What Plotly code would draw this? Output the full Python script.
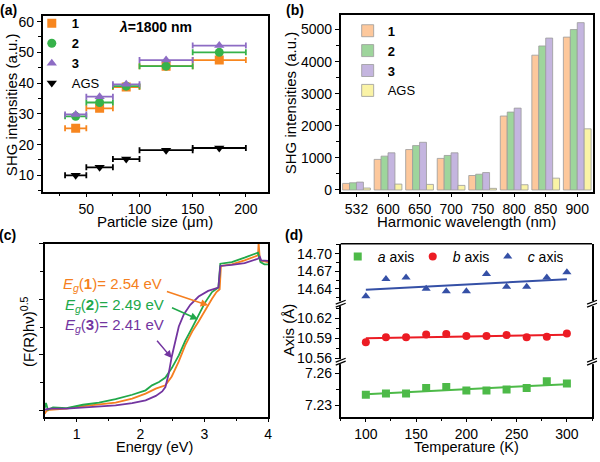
import plotly.graph_objects as go

FONT = "Arial, Liberation Sans, sans-serif"
W, H = 600, 462

# (a) SHG intensity vs particle size at 1800 nm
particle_mid = [40, 62.5, 87.5, 125, 175]
particle_half = [10, 12.5, 12.5, 25, 25]
shg_a_1 = [25.3, 31.8, 38.7, 45.5, 47.5]
shg_a_2 = [29.2, 33.7, 39.0, 45.5, 50.0]
shg_a_3 = [29.8, 35.6, 39.6, 47.5, 52.2]
shg_a_ags = [10.0, 12.6, 15.3, 18.2, 18.9]

# (b) SHG intensity vs harmonic wavelength
wavelengths = ["532", "600", "650", "700", "750", "800", "850", "900"]
shg_b_1 = [205, 953, 1260, 984, 451, 2305, 4201, 4764]
shg_b_2 = [225, 1055, 1383, 1076, 492, 2428, 4488, 5000]
shg_b_3 = [246, 1158, 1486, 1158, 543, 2551, 4734, 5215]
shg_b_ags = [61, 184, 174, 143, 51, 164, 369, 1906]

# (c) Tauc plots (arbitrary units)
tauc1_e = [0.50, 0.53, 0.58, 0.84, 0.99, 1.35, 1.61, 1.87, 2.08, 2.24, 2.39, 2.49, 2.60,
           2.70, 2.81, 2.91, 3.01, 3.12, 3.19, 3.24, 3.26, 3.43, 3.63, 3.84, 3.85, 3.87, 4.0]
tauc1_y = [-0.06, -0.01, 0.01, 0.03, 0.06, 0.11, 0.14, 0.21, 0.30, 0.39, 0.45, 0.61, 0.88,
           1.17, 1.42, 1.60, 1.80, 2.01, 2.13, 2.18, 2.60, 2.63, 2.70, 2.79, 3.02, 2.70, 2.67]
tauc2_e = [0.50, 0.52, 0.55, 0.63, 0.84, 1.10, 1.35, 1.61, 1.87, 2.08, 2.18, 2.29, 2.39,
           2.49, 2.60, 2.70, 2.81, 2.91, 3.01, 3.12, 3.22, 3.25, 3.43, 3.63, 3.84, 3.88, 3.94, 4.0]
tauc2_y = [0.04, 0.13, 0.01, 0.05, 0.04, 0.10, 0.14, 0.20, 0.28, 0.36, 0.45, 0.51, 0.59,
           0.76, 0.99, 1.25, 1.49, 1.71, 1.94, 2.13, 2.21, 2.64, 2.67, 2.75, 2.84, 2.67, 2.63, 2.63]
tauc3_e = [0.50, 0.58, 0.84, 1.10, 1.35, 1.61, 1.87, 2.08, 2.24, 2.34, 2.39, 2.44, 2.49,
           2.55, 2.60, 2.68, 2.78, 2.91, 3.06, 3.22, 3.25, 3.43, 3.63, 3.84, 3.87, 3.89, 4.0]
tauc3_y = [0.01, 0.03, 0.03, 0.05, 0.06, 0.09, 0.13, 0.18, 0.26, 0.34, 0.42, 0.65, 0.97,
           1.25, 1.51, 1.73, 1.90, 2.05, 2.15, 2.21, 2.60, 2.62, 2.65, 2.73, 2.76, 2.70, 2.69]

# (d) lattice parameters vs temperature
temps = [100, 120, 140, 160, 180, 200, 220, 240, 260, 280, 300]
a_axis = [7.2397, 7.2409, 7.2409, 7.2462, 7.2471, 7.2438, 7.2438, 7.2447, 7.2462, 7.2526, 7.2503]
b_axis = [10.5841, 10.5915, 10.5915, 10.5959, 10.5964, 10.5934, 10.5934, 10.5949, 10.5915, 10.5925, 10.5974]
c_axis = [14.6278, 14.6572, 14.6595, 14.6406, 14.6361, 14.6361, 14.6656, 14.6439, 14.6439, 14.6595, 14.6684]
fit_t = [100, 300]
fit_a = [7.2403, 7.2497]
fit_b = [10.5900, 10.5954]
fit_c = [14.6389, 14.6567]


def px(x):
    return x / W


def py(y):
    return 1 - y / H


ORANGE, GREEN, PURPLE = "#F7861F", "#36B24A", "#8D6CC4"

fig = go.Figure()

# ---- panel (a)
for name, vals, col, sym in [("<b>1</b>", shg_a_1, ORANGE, "square"),
                             ("<b>2</b>", shg_a_2, GREEN, "circle"),
                             ("<b>3</b>", shg_a_3, PURPLE, "triangle-up"),
                             ("AGS", shg_a_ags, "black", "triangle-down")]:
    fig.add_trace(go.Scatter(
        x=particle_mid, y=vals, name=name, mode="markers",
        marker=dict(symbol=sym, size=9, color=col),
        error_x=dict(type="data", array=particle_half, color=col, thickness=1.8, width=3),
        xaxis="x", yaxis="y", legend="legend",
    ))

# ---- panel (b)
for name, vals, col in [("<b>1</b>", shg_b_1, "#FDC89C"),
                        ("<b>2</b>", shg_b_2, "#9ED59C"),
                        ("<b>3</b>", shg_b_3, "#C4B5DF"),
                        ("AGS", shg_b_ags, "#FAF3A6")]:
    fig.add_trace(go.Bar(
        x=wavelengths, y=vals, name=name,
        marker=dict(color=col, line=dict(color="#9a9a9a", width=0.8)),
        xaxis="x2", yaxis="y2", legend="legend2",
    ))

# ---- panel (c)
for e, v, col in [(tauc1_e, tauc1_y, "#F57F20"), (tauc2_e, tauc2_y, "#21A84A"),
                  (tauc3_e, tauc3_y, "#7335A0")]:
    fig.add_trace(go.Scatter(x=e, y=v, mode="lines", line=dict(color=col, width=1.8),
                             showlegend=False, xaxis="x3", yaxis="y3"))

# ---- panel (d)
DG, DR, DB = "#4DBA48", "#EC1C24", "#3550A6"
for name, vals, fit, col, sym, ya in [("<i>a</i> axis", a_axis, fit_a, DG, "square", "y4"),
                                      ("<i>b</i> axis", b_axis, fit_b, DR, "circle", "y5"),
                                      ("<i>c</i> axis", c_axis, fit_c, DB, "triangle-up", "y6")]:
    fig.add_trace(go.Scatter(x=temps, y=vals, name=name, mode="markers",
                             marker=dict(symbol=sym, size=8, color=col),
                             xaxis="x4", yaxis=ya, legend="legend3"))
    fig.add_trace(go.Scatter(x=fit_t, y=fit, mode="lines", line=dict(color=col, width=2),
                             showlegend=False, xaxis="x4", yaxis=ya))

tickfont = dict(family=FONT, size=14, color="black")
base = dict(showline=True, linecolor="black", linewidth=1.5, ticks="outside", ticklen=4,
            tickwidth=1.2, tickcolor="black", tickfont=tickfont, showgrid=False, zeroline=False)
minor = lambda d: dict(ticks="outside", ticklen=3, tickwidth=1, tickcolor="black", dtick=d, showgrid=False)

BOT = 422  # bottom edge of the lower panels, px

fig.update_layout(
    width=W, height=H, margin=dict(l=0, r=0, t=0, b=0),
    plot_bgcolor="white", paper_bgcolor="white",
    font=dict(family=FONT, size=14, color="black"),
    bargap=0.12, bargroupgap=0, barmode="group",
    xaxis=dict(base, domain=[px(43), px(270)], anchor="y", range=[9, 221], mirror=True,
               tick0=0, dtick=50, minor=minor(25)),
    yaxis=dict(base, domain=[py(193), py(14)], anchor="x", range=[4.7, 61.9], mirror=True,
               tick0=0, dtick=10, minor=minor(5)),
    xaxis2=dict(base, domain=[px(343), px(597)], anchor="y2", type="category",
                range=[-0.5, 7.5], mirror=True),
    yaxis2=dict(base, domain=[py(193), py(13)], anchor="x2", range=[-52, 5460], mirror=True,
                tick0=0, dtick=1000, minor=minor(500)),
    xaxis3=dict(base, domain=[px(45), px(270)], anchor="y3", range=[0.5, 4], mirror=True,
                tick0=0, dtick=1, minor=minor(0.5)),
    yaxis3=dict(base, domain=[py(BOT), py(246)], anchor="x3", range=[-0.115, 3.0], mirror=True,
                tick0=0, dtick=1, showticklabels=False, minor=minor(0.5)),
    xaxis4=dict(base, domain=[px(343), px(596)], anchor="y4", range=[75, 325],
                tick0=0, dtick=50, minor=minor(25)),
    yaxis4=dict(base, domain=[py(BOT), py(366)], anchor="x4", range=[7.219, 7.271], mirror=True,
                tick0=7.23, dtick=0.03, tickformat=".2f", minor=minor(0.015)),
    yaxis5=dict(base, domain=[py(366), py(307)], anchor="x4", range=[10.555, 10.642], mirror=True,
                tick0=10.59, dtick=0.03, tickformat=".2f", minor=minor(0.015)),
    yaxis6=dict(base, domain=[py(307), py(246)], anchor="x4", range=[14.615, 14.717], mirror=True,
                tick0=14.64, dtick=0.03, tickformat=".2f", minor=minor(0.015)),
    legend=dict(x=px(32), y=py(6.5), xanchor="left", yanchor="top", bgcolor="rgba(0,0,0,0)",
                font=dict(family=FONT, size=13), tracegroupgap=0, itemwidth=30),
    legend2=dict(x=px(350), y=py(14), xanchor="left", yanchor="top", bgcolor="rgba(0,0,0,0)",
                 font=dict(family=FONT, size=13), tracegroupgap=0, itemwidth=30),
    legend3=dict(x=px(340), y=py(243), xanchor="left", yanchor="top", orientation="h",
                 bgcolor="rgba(0,0,0,0)", font=dict(family=FONT, size=14), itemwidth=30,
                 entrywidth=30, entrywidthmode="pixels"),
)

ann = []


def label(x, y, text, size=15, angle=0, color="black", xanchor="center"):
    ann.append(dict(x=px(x), y=py(y), xref="paper", yref="paper", text=text, showarrow=False,
                    font=dict(family=FONT, size=size, color=color), textangle=angle,
                    xanchor=xanchor, yanchor="middle"))


label(9, 8, "<b>(a)</b>", 14)
label(297, 8, "<b>(b)</b>", 14)
label(8, 237, "<b>(c)</b>", 14)
label(296, 237, "<b>(d)</b>", 14)
label(156, 223, "Particle size (μm)")
label(11, 104, "SHG intensities (a.u.)", angle=-90)
label(470, 223, "Harmonic wavelength (nm)")
label(292, 103, "SHG intensities (a.u.)", angle=-90)
label(156, 453, "Energy (eV)", 14.5)
label(27, 335, "(F(R)hν)<sup>0.5</sup>", angle=-90)
label(470, 453, "Temperature (K)", 14.5)
label(290, 334, "Axis (Å)", angle=-90)
label(157, 25, "<b><i>λ</i>=1800 nm</b>", 14)

# Eg annotations in panel (c)
for txt, col, tx, ty, tail, head in [
        ("<i>E<sub>g</sub></i>(<b>1</b>)= 2.54 eV", "#F57F20", 0.76, 2.26, (2.39, 2.15), (3.06, 1.89)),
        ("<i>E<sub>g</sub></i>(<b>2</b>)= 2.49 eV", "#21A84A", 0.78, 1.89, (2.47, 1.86), (2.90, 1.64)),
        ("<i>E<sub>g</sub></i>(<b>3</b>)= 2.41 eV", "#7335A0", 0.78, 1.52, (2.24, 1.28), (2.49, 0.94))]:
    ann.append(dict(x=tx, y=ty, xref="x3", yref="y3", text=txt, showarrow=False,
                    xanchor="left", yanchor="middle", font=dict(family=FONT, size=15, color=col)))
    ann.append(dict(x=head[0], y=head[1], ax=tail[0], ay=tail[1], xref="x3", yref="y3",
                    axref="x3", ayref="y3", text="", showarrow=True, arrowhead=2,
                    arrowsize=1, arrowwidth=1.5, arrowcolor=col))

fig.update_layout(annotations=ann)

# top border of panel (d) and axis break marks
shapes = [dict(type="line", xref="paper", yref="paper", x0=px(343), x1=px(596),
               y0=py(246), y1=py(246), line=dict(color="black", width=1.5))]
for bx in [343, 596]:
    for by in [307, 366]:
        shapes.append(dict(type="rect", xref="paper", yref="paper", x0=px(bx - 4), x1=px(bx + 4),
                           y0=py(by + 2.5), y1=py(by - 2.5), fillcolor="white", line=dict(width=0)))
        for off in [-1.5, 1.5]:
            shapes.append(dict(type="line", xref="paper", yref="paper",
                               x0=px(bx - 5), y0=py(by + 2 + off), x1=px(bx + 5), y1=py(by - 2 + off),
                               line=dict(color="black", width=1.2)))
fig.update_layout(shapes=shapes)

# the page's default 8px body margin would push the 600x462 figure out of the window
fig.write_html("out.html", config={"displayModeBar": False},
               post_script="document.body.style.margin='0px';")
